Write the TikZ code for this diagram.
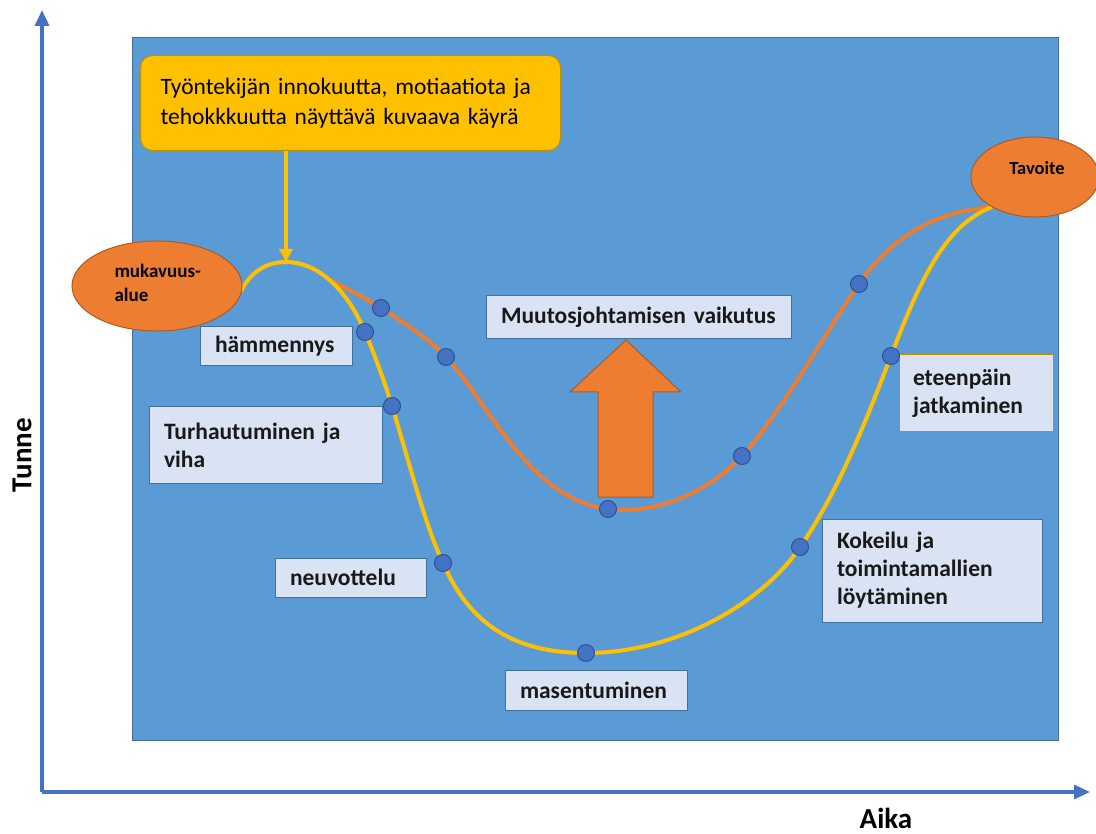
\documentclass[tikz,border=0pt]{standalone}
\usepackage{fontspec}
\setmainfont{Carlito}
\usetikzlibrary{shapes.geometric,arrows.meta}
\definecolor{bgblue}{HTML}{5B9BD5}
\definecolor{bgborder}{HTML}{41719C}
\definecolor{lightbox}{HTML}{DAE3F3}
\definecolor{yel}{HTML}{FFC000}
\definecolor{yelborder}{HTML}{BF9000}
\definecolor{ora}{HTML}{ED7D31}
\definecolor{oraborder}{HTML}{AE5A21}
\definecolor{dotblue}{HTML}{4472C4}
\definecolor{dotborder}{HTML}{2F528F}
\definecolor{axis}{HTML}{4472C4}
\tikzset{
  lbl/.style={draw=bgborder, fill=lightbox, line width=1pt, inner xsep=15pt, inner ysep=0pt,
    align=left, font=\bfseries\fontsize{23.5}{28}\selectfont, text=black!90},
  oval/.style={ellipse, draw=oraborder, fill=ora, line width=1pt, inner sep=0pt},
  pt/.style={circle, draw=dotborder, fill=dotblue, line width=1pt, minimum size=17pt, inner sep=0pt},
  curveY/.style={draw=yel, line width=4pt},
  curveO/.style={draw=ora, line width=4pt},
  axisline/.style={draw=axis, line width=3.5pt, -{Triangle[length=16pt,width=14pt]}},
}
\begin{document}
\begin{tikzpicture}[x=1pt,y=-1pt]
\useasboundingbox (0,0) rectangle (1096,834);
% axes
\coordinate (origin) at (42,792);
\coordinate (ytip) at (42,10);
\coordinate (xtip) at (1090,792);
\draw[axisline] (origin) -- (ytip);
\draw[axisline] (origin) -- (xtip);
\node[font=\bfseries\fontsize{29}{34}\selectfont, rotate=90] (tunne) at (22,455) {Tunne};
\node[font=\bfseries\fontsize{29}{34}\selectfont] (aika) at (886,818) {Aika};
% background panel
\node[draw=bgborder, fill=bgblue, line width=1pt, minimum width=926pt, minimum height=703pt, inner sep=0pt, anchor=north west] (panel) at (132,37) {};
% callout
\node[draw=yelborder, fill=yel, line width=1pt, rounded corners=12pt, minimum width=420pt, minimum height=95pt,
  text width=380pt, inner xsep=20pt, align=left, anchor=north west,
  font=\fontsize{23.5}{30}\selectfont] (callout) at (140,55)
  {Työntekijän innokuutta, motiaatiota ja\\tehokkkuutta näyttävä kuvaava käyrä};
% curves
\coordinate (ostart) at (328,279);
\coordinate (goal) at (992,207);
\coordinate (peak) at (286,262);
\draw[curveO] (ostart) .. controls (345,288) and (362,296) .. (381,308)
  .. controls (405,323) and (430,340) .. (446,357)
  .. controls (490,405) and (530,500) .. (608,509)
  .. controls (660,515) and (710,490) .. (742,456)
  .. controls (780,415) and (830,325) .. (859,284)
  .. controls (890,240) and (930,212) .. (goal);
\draw[curveY] (241,291) .. controls (252,270) and (268,262) .. (peak)
  .. controls (315,262) and (345,285) .. (365,332)
  .. controls (375,356) and (384,380) .. (392,406)
  .. controls (410,465) and (425,525) .. (443,563)
  .. controls (470,625) and (515,653) .. (586,653)
  .. controls (680,653) and (765,600) .. (800,547)
  .. controls (840,490) and (870,410) .. (891,356)
  .. controls (920,280) and (945,225) .. (goal);
% ellipses
\node[oval, minimum width=170pt, minimum height=90pt] (muk) at (157,286) {};
\node[font=\bfseries\fontsize{19}{24}\selectfont, align=left, anchor=west] (muktext) at (111,283) {mukavuus-\\alue};
\node[oval, minimum width=128pt, minimum height=80pt] (tav) at (1035,177) {};
\node[font=\bfseries\fontsize{18.5}{24}\selectfont] (tavtext) at (1037,168) {Tavoite};
% callout arrow
\draw[draw=yel, line width=3.5pt, -{Triangle[length=13pt,width=13pt]}] (callout.south -| peak) -- (peak);
% big arrow
\draw[draw=oraborder, fill=ora, line width=1pt] (598,497) -- (598,392) -- (570,392) -- (626,340) -- (681,392) -- (653,392) -- (653,497) -- cycle;
% labels
\node[lbl, minimum width=152pt, minimum height=39pt, text width=122pt] (ham) at (276,346.5) {hämmennys};
\node[lbl, minimum width=233pt, minimum height=76pt, text width=203pt, inner xsep=14pt] (turh) at (265.5,445) {Turhautuminen ja\\viha};
\node[lbl, minimum width=305pt, minimum height=43pt, text width=275pt] (muut) at (638.5,317.5) {Muutosjohtamisen vaikutus};
\node[lbl, minimum width=151pt, minimum height=39pt, text width=121pt] (neuv) at (350.5,577.5) {neuvottelu};
\node[lbl, minimum width=182pt, minimum height=40pt, text width=152pt] (mas) at (596,690) {masentuminen};
\node[lbl, draw=yelborder, minimum width=154pt, minimum height=77pt, text width=126pt, inner xsep=14pt] (etee) at (976,393.5) {eteenpäin\\jatkaminen};
\node[lbl, minimum width=220pt, minimum height=103pt, text width=190pt] (koke) at (932,570.5) {Kokeilu ja\\toimintamallien\\löytäminen};
% dots
\node[pt] (y1) at (365,332) {};
\node[pt] (y2) at (392,406) {};
\node[pt] (y3) at (443,563) {};
\node[pt] (y4) at (586,653) {};
\node[pt] (y5) at (800,547) {};
\node[pt] (y6) at (891,356) {};
\node[pt] (o1) at (381,308) {};
\node[pt] (o2) at (446,357) {};
\node[pt] (o3) at (608,509) {};
\node[pt] (o4) at (742,456) {};
\node[pt] (o5) at (859,284) {};
\end{tikzpicture}
\end{document}
